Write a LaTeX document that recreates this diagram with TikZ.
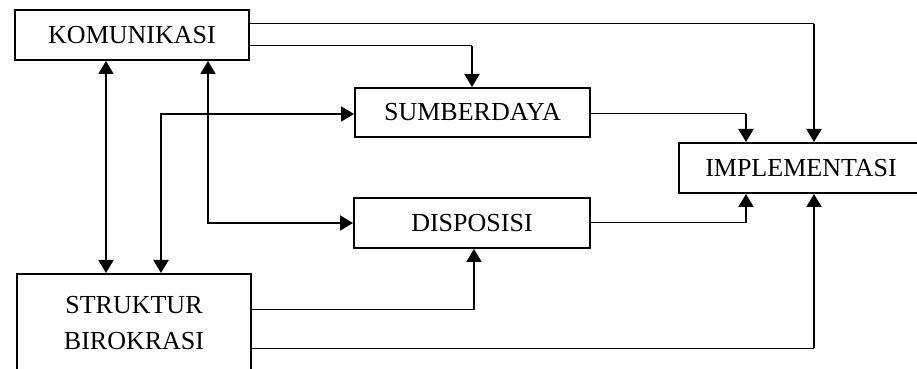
\documentclass[tikz,border=0pt]{standalone}
\usepackage{fontspec}
\setmainfont{Liberation Serif}
\usetikzlibrary{arrows.meta}
\begin{document}
\begin{tikzpicture}[x=0.5pt,y=-0.5pt,
  box/.style={draw,line width=1pt,minimum height=25pt,inner sep=0pt,
    font=\fontsize{13}{18}\selectfont,align=center},
  thinln/.style={line width=0.5pt},
  thickln/.style={line width=1pt},
  tip/.style={-{Triangle[width=7.5pt,length=6.5pt]}},
  tips/.style={{Triangle[width=7.5pt,length=6.5pt]}-{Triangle[width=7.5pt,length=6.5pt]}}]

% page frame
\useasboundingbox (0,0) rectangle (917,369);
\fill[white] (0,0) rectangle (917,369);
\clip (0,0) rectangle (917,369);

% boxes
\node[box,minimum width=117pt] (kom) at (132,35) {KOMUNIKASI};
\node[box,minimum width=117.5pt,minimum height=24.5pt] (sumb) at (472.5,112.5) {SUMBERDAYA};
\node[box,minimum width=122pt] (impl) at (801,168) {IMPLEMENTASI};
\node[box,minimum width=118pt] (disp) at (472,223) {DISPOSISI};
\node[box,minimum width=117pt,minimum height=49pt] (struk) at (134,323) {STRUKTUR\\BIROKRASI};

% corner points of the elbow connectors
\coordinate (k1) at (106,0);
\coordinate (c8) at (208,223);
\coordinate (c9) at (161,114);
\coordinate (c1) at (814,24);
\coordinate (c2) at (472,46);
\coordinate (c3) at (746,114);
\coordinate (c4) at (746,223);
\coordinate (c5) at (474,310);
\coordinate (c6) at (814,348);

% two-way links on the left
\draw[thickln,tips] (kom.south -| k1) -- (struk.north -| k1);
\draw[thickln,tips] (kom.south -| c8) -- (c8) -- (disp.west |- c8);
\draw[thickln,tips] (struk.north -| c9) -- (c9) -- (sumb.west |- c9);

% one-way links towards the right
\draw[thinln] (kom.east |- c1) -- (c1);
\draw[thickln,tip] (c1) -- (impl.north -| c1);
\draw[thinln] (kom.east |- c2) -- (c2);
\draw[thickln,tip] (c2) -- (sumb.north -| c2);
\draw[thinln] (sumb.east |- c3) -- (c3);
\draw[thickln,tip] (c3) -- (impl.north -| c3);
\draw[thinln] (disp.east |- c4) -- (c4);
\draw[thickln,tip] (c4) -- (impl.south -| c4);
\draw[thinln] (struk.east |- c5) -- (c5);
\draw[thickln,tip] (c5) -- (disp.south -| c5);
\draw[thinln] (struk.east |- c6) -- (c6);
\draw[thickln,tip] (c6) -- (impl.south -| c6);
\end{tikzpicture}
\end{document}
